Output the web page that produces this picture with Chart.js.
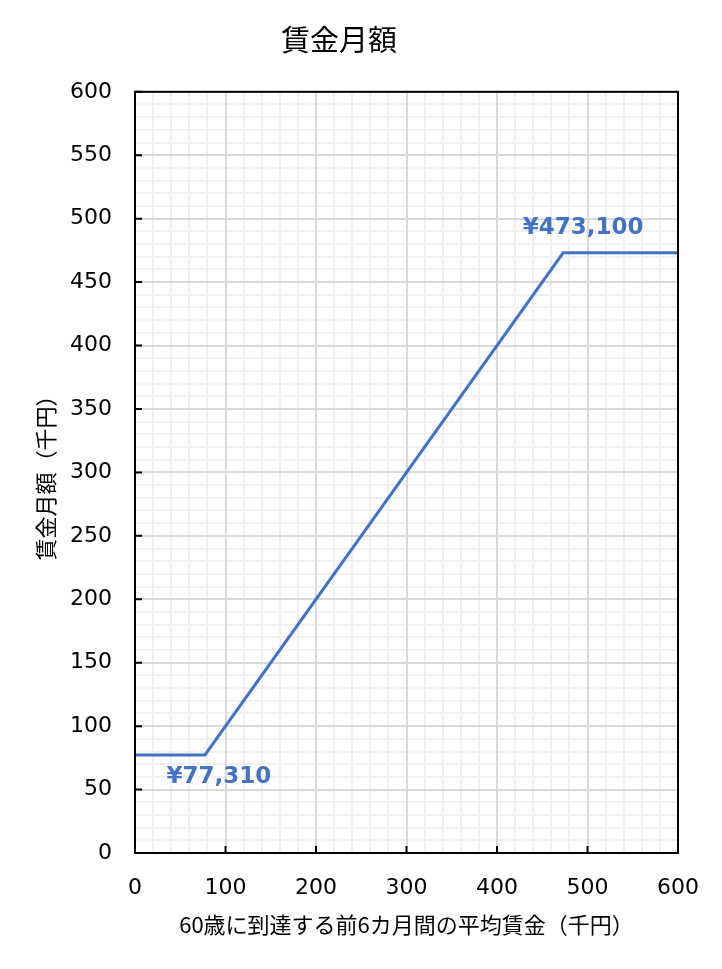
<!DOCTYPE html>
<html>
<head>
    <meta charset="utf-8">
    <title>賃金月額</title>
    <script src="https://cdn.jsdelivr.net/npm/chart.js"></script>
    <style>
        body { margin: 0; background: #fff; }
        #wrap { width: 722px; height: 969px; }
    </style>
</head>
<body>
    <div id="wrap">
        <canvas id="myChart"></canvas>
    </div>

    <script>
        // data (thousand yen)
        const wageX = [0, 77.31, 473.1, 600];
        const wageY = [77.31, 77.31, 473.1, 473.1];
        const noteIndex = [1, 2];
        const noteText = ['¥77,310', '¥473,100'];

        const chartTitle = '賃金月額';
        const xTitle = '60歳に到達する前6カ月間の平均賃金（千円）';
        const yTitle = '賃金月額（千円）';

        const blue = '#4472C4';
        const numFont = '"DejaVu Sans", Verdana, sans-serif';
        const jpFont = '"Noto Sans CJK JP", sans-serif';

        // black frame round the plot + short inside tick marks
        const frame = {
            id: 'frame',
            afterDraw(chart) {
                const c = chart.ctx, a = chart.chartArea;
                const xs = chart.scales.x, ys = chart.scales.y;
                c.save();
                c.strokeStyle = '#000';
                c.lineWidth = 2;
                c.strokeRect(a.left, a.top, a.right - a.left, a.bottom - a.top);
                c.beginPath();
                xs.ticks.forEach(t => {
                    const px = xs.getPixelForValue(t.value);
                    c.moveTo(px, a.bottom);
                    c.lineTo(px, a.bottom - 7);
                });
                ys.ticks.forEach(t => {
                    const py = ys.getPixelForValue(t.value);
                    c.moveTo(a.left, py);
                    c.lineTo(a.left + 7, py);
                });
                c.stroke();
                c.restore();
            }
        };

        // value labels next to the two bends
        const notes = {
            id: 'notes',
            afterDatasetsDraw(chart) {
                const c = chart.ctx;
                const pts = chart.getDatasetMeta(0).data;
                const offs = [[14, 22], [20, -25]];
                c.save();
                c.fillStyle = blue;
                c.font = 'bold 23px ' + numFont;
                c.textAlign = 'center';
                c.textBaseline = 'middle';
                noteIndex.forEach((idx, i) => {
                    const p = pts[idx];
                    c.fillText(noteText[i], p.x + offs[i][0], p.y + offs[i][1]);
                });
                c.restore();
            }
        };

        const ctx = document.getElementById('myChart').getContext('2d');
        new Chart(ctx, {
            type: 'line',
            data: {
                datasets: [{
                    data: wageX.map((x, i) => ({ x: x, y: wageY[i] })),
                    xAxisID: 'x',
                    yAxisID: 'y',
                    borderColor: blue,
                    borderWidth: 3,
                    pointRadius: 0,
                    tension: 0,
                    fill: false
                }]
            },
            options: {
                responsive: true,
                maintainAspectRatio: false,
                animation: false,
                layout: { padding: { left: 0, right: 44, top: 0, bottom: 0 } },
                plugins: {
                    legend: { display: false },
                    tooltip: { enabled: false },
                    title: {
                        display: true,
                        text: chartTitle,
                        color: '#000',
                        font: { family: jpFont, size: 29, weight: 'normal', lineHeight: 1.2 },
                        padding: { top: 23, bottom: 34 }
                    }
                },
                scales: {
                    xMinor: {
                        type: 'linear', position: 'bottom', min: 0, max: 600, z: -1,
                        ticks: { display: false, stepSize: 20 },
                        grid: { color: '#f0f0f0', lineWidth: 2, drawTicks: false },
                        border: { display: false },
                        afterFit(s) { s.height = 0; }
                    },
                    yMinor: {
                        type: 'linear', position: 'left', min: 0, max: 600, z: -1,
                        ticks: { display: false, stepSize: 10 },
                        grid: { color: '#f0f0f0', lineWidth: 2, drawTicks: false },
                        border: { display: false },
                        afterFit(s) { s.width = 0; }
                    },
                    x: {
                        type: 'linear', position: 'bottom', min: 0, max: 600,
                        ticks: { stepSize: 100, color: '#000', padding: 22, maxRotation: 0,
                                 font: { family: numFont, size: 22 } },
                        grid: { color: '#d9d9d9', lineWidth: 2, drawTicks: false },
                        border: { color: '#000', width: 2 },
                        title: {
                            display: true, text: xTitle, color: '#000',
                            font: { family: jpFont, size: 22, lineHeight: 1.2 },
                            padding: { top: 0, bottom: 31 }
                        },
                        afterFit(s) { s.height = 116; }
                    },
                    y: {
                        type: 'linear', position: 'left', min: 0, max: 600,
                        ticks: { stepSize: 50, color: '#000', padding: 23,
                                 font: { family: numFont, size: 22 } },
                        grid: { color: '#d9d9d9', lineWidth: 2, drawTicks: false },
                        border: { color: '#000', width: 2 },
                        title: {
                            display: true, text: yTitle, color: '#000',
                            font: { family: jpFont, size: 22, lineHeight: 1.2 },
                            padding: { top: 32, bottom: 0 }
                        },
                        afterFit(s) { s.width = 135; }
                    }
                }
            },
            plugins: [frame, notes]
        });
    </script>
</body>
</html>
